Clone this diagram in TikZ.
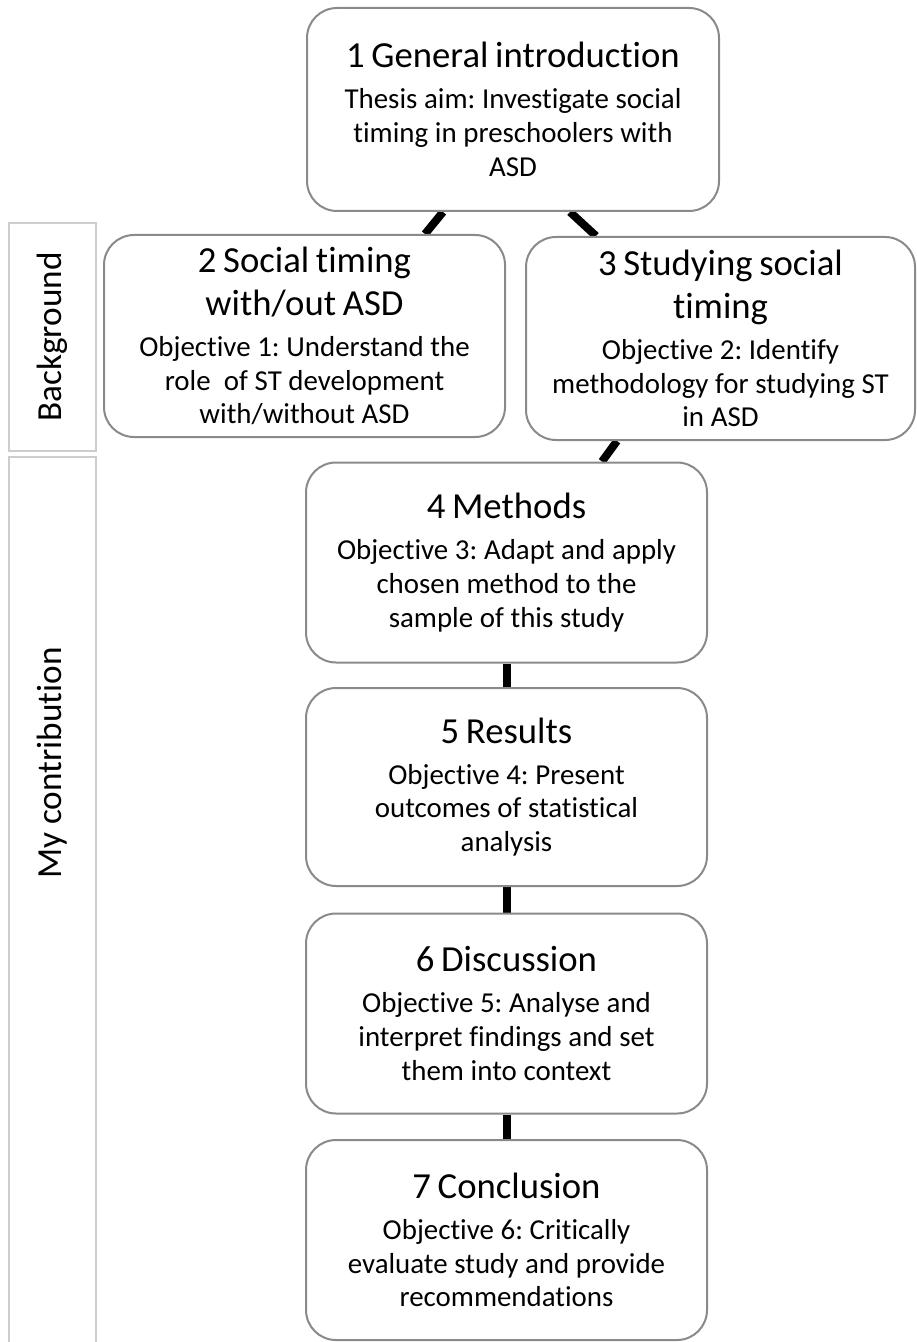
\documentclass[tikz,border=0pt]{standalone}
\usepackage{fontspec}
\setmainfont{Carlito}[Ligatures=NoCommon]
\usetikzlibrary{calc,backgrounds}
\definecolor{boxgray}{HTML}{8A8A8A}
\definecolor{sidegray}{HTML}{CDCDCD}
\newcommand\ttlfont{\fontsize{18.35pt}{21.5pt}\selectfont}
\newcommand\bdyfont{\fontsize{14.45pt}{16.9pt}\selectfont}
\newcommand\sidefont{\fontsize{17.6pt}{20pt}\selectfont}
\frenchspacing
\tikzset{
  chapbox/.style={draw=boxgray, line width=1pt, fill=white, rounded corners=15pt,
    inner sep=0pt, align=center, minimum width=200.5pt, minimum height=100pt,
    text width=190pt},
  sidebox/.style={draw=sidegray, line width=1pt, inner sep=0pt, minimum width=43.5pt},
  sidelabel/.style={rotate=90, inner sep=0pt, font=\sidefont},
  link/.style={line width=4pt, black}
}
\begin{document}
\begin{tikzpicture}[x=0.5pt,y=-0.5pt]
\useasboundingbox (0,0) rectangle (916,1342);
% side labels
\node[sidebox, minimum height=114pt] (bg) at (52.5,337) {};
\node[sidelabel] (bgtext) at (bg.center) {Background};
\node[sidebox, minimum height=450pt, anchor=north] (contrib) at (52.5,456) {};
\node[sidelabel] (contribtext) at (52.5,763) {My contribution};
% chapter boxes
\node[chapbox, minimum width=206pt, minimum height=101.5pt, text width=196pt] (b1) at (513,109.5)
  {{\ttlfont 1 General introduction\par}\vspace{3.5pt}{\bdyfont Thesis aim: Investigate social\\timing in preschoolers with\\ASD\par}};
\node[chapbox, minimum height=101pt] (b2) at (304.5,336)
  {{\ttlfont 2 Social timing\\with/out ASD\par}\vspace{3.5pt}{\bdyfont Objective 1: Understand the\\role\ \ of ST development\\with/without ASD\par}};
\node[chapbox, minimum width=194.5pt, minimum height=101.5pt, text width=188pt] (b3) at (720.5,338.5)
  {{\ttlfont 3 Studying social\\timing\par}\vspace{3.5pt}{\bdyfont Objective 2: Identify\\methodology for studying ST\\in ASD\par}};
\node[chapbox] (b4) at (506.5,562.5)
  {{\ttlfont 4 Methods\par}\vspace{3.5pt}{\bdyfont Objective 3: Adapt and apply\\chosen method to the\\sample of this study\par}};
\node[chapbox, minimum height=99pt] (b5) at (506.5,787)
  {{\ttlfont 5 Results\par}\vspace{3.5pt}{\bdyfont Objective 4: Present\\outcomes of statistical\\analysis\par}};
\node[chapbox] (b6) at (506.5,1013.5)
  {{\ttlfont 6 Discussion\par}\vspace{3.5pt}{\bdyfont Objective 5: Analyse and\\interpret findings and set\\them into context\par}};
\node[chapbox] (b7) at (506.5,1240)
  {{\ttlfont 7 Conclusion\par}\vspace{3.5pt}{\bdyfont Objective 6: Critically\\evaluate study and provide\\recommendations\par}};
% connectors
\begin{scope}[on background layer]
\draw[link] ($(b1.south)+(-70,0)$) -- ($(b2.north)+(120.5,0)$);
\draw[link] ($(b1.south)+(57,0)$) -- ($(b3.north)+(-124.5,0)$);
\draw[link] ($(b3.south)+(-103.5,0)$) -- ($(b4.north)+(95.5,0)$);
\draw[link] (b4.south) -- (b5.north);
\draw[link] (b5.south) -- (b6.north);
\draw[link] (b6.south) -- (b7.north);
\end{scope}
\end{tikzpicture}
\end{document}
